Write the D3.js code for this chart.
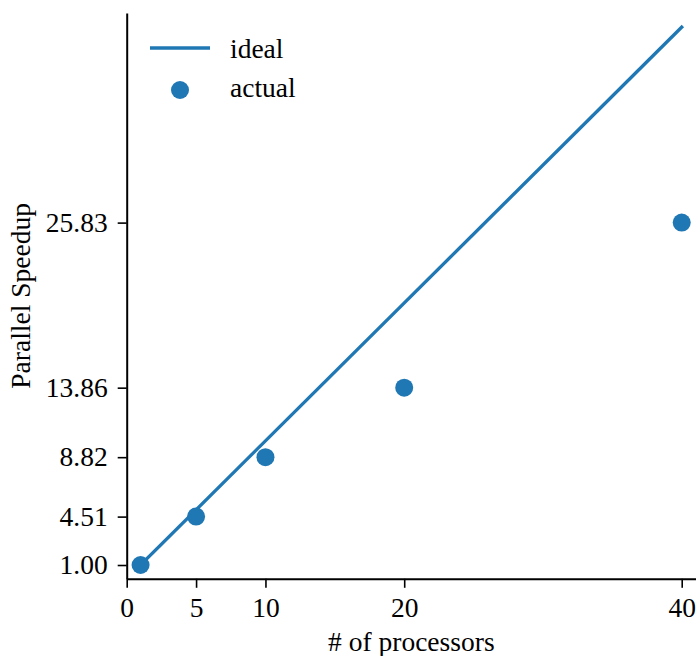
<!DOCTYPE html>
<html>
<head>
<meta charset="utf-8">
<script src="https://cdn.jsdelivr.net/npm/d3@7/dist/d3.min.js"></script>
<style>
  html, body { margin: 0; padding: 0; background: #fff; }
  svg { display: block; }
  text { font-family: "Liberation Serif", "DejaVu Serif", serif; fill: #000; }
</style>
</head>
<body>
<svg id="chart" width="696" height="656"></svg>
<script>
// Data
const processors = [1, 5, 10, 20, 40];
const speedup = [1.00, 4.51, 8.82, 13.86, 25.83];
const idealX = [1, 40];
const idealY = [1, 40];
const xTicks = [0, 5, 10, 20, 40];
const yTicks = [1.00, 4.51, 8.82, 13.86, 25.83];
const xLabel = "# of processors";
const yLabel = "Parallel Speedup";
const legendLabels = ["ideal", "actual"];

const color = "#1f77b4";
const fontSize = 27.5;

const svg = d3.select("#chart");
const x = d3.scaleLinear().domain([0, 41.03]).range([126.7, 696]);
const y = d3.scaleLinear().domain([0, 41.03]).range([578.8, 13]);

// Ideal line
svg.append("path")
  .datum(idealX.map((d, i) => [d, idealY[i]]))
  .attr("d", d3.line().x(d => x(d[0])).y(d => y(d[1])))
  .attr("fill", "none")
  .attr("stroke", color)
  .attr("stroke-width", 3.3)
  .attr("stroke-linecap", "square");

// Actual points
svg.selectAll("circle.pt")
  .data(processors.map((d, i) => [d, speedup[i]]))
  .join("circle")
  .attr("class", "pt")
  .attr("cx", d => x(d[0]))
  .attr("cy", d => y(d[1]))
  .attr("r", 9)
  .attr("fill", color);

// Axes
const xAxis = d3.axisBottom(x).tickValues(xTicks).tickFormat(d3.format("d"))
  .tickSize(9).tickPadding(6).tickSizeOuter(0);
const yAxis = d3.axisLeft(y).tickValues(yTicks).tickFormat(d3.format(".2f"))
  .tickSize(9).tickPadding(10).tickSizeOuter(0);

const gx = svg.append("g").attr("transform", `translate(0,${y(0)})`).call(xAxis);
const gy = svg.append("g").attr("transform", `translate(${x(0)},0)`).call(yAxis);

[gx, gy].forEach(g => {
  g.select(".domain").attr("stroke", "#000").attr("stroke-width", 2);
  g.selectAll(".tick line").attr("stroke", "#000").attr("stroke-width", 1.6);
  g.selectAll(".tick text")
    .attr("font-family", '"Liberation Serif", serif')
    .attr("font-size", fontSize).attr("fill", "#000");
});
gx.selectAll(".tick text").attr("dy", null).attr("y", 0)
  .attr("transform", `translate(0, ${617 - y(0)})`);
gy.selectAll(".tick text").attr("dy", "0.32em");

// Axis labels
svg.append("text")
  .attr("x", (x(0) + 696) / 2)
  .attr("y", 651)
  .attr("text-anchor", "middle")
  .attr("font-size", fontSize)
  .text(xLabel);

svg.append("text")
  .attr("transform", `translate(30, ${(y(0) + y(41.03)) / 2}) rotate(-90)`)
  .attr("text-anchor", "middle")
  .attr("font-size", fontSize)
  .text(yLabel);

// Legend
const lg = svg.append("g");
lg.append("line")
  .attr("x1", 150).attr("x2", 210).attr("y1", 48).attr("y2", 48)
  .attr("stroke", color).attr("stroke-width", 3.3);
lg.append("circle").attr("cx", 180).attr("cy", 90).attr("r", 9).attr("fill", color);
lg.append("text").attr("x", 230).attr("y", 58).attr("font-size", fontSize).text(legendLabels[0]);
lg.append("text").attr("x", 230).attr("y", 97).attr("font-size", fontSize).text(legendLabels[1]);
</script>
</body>
</html>
